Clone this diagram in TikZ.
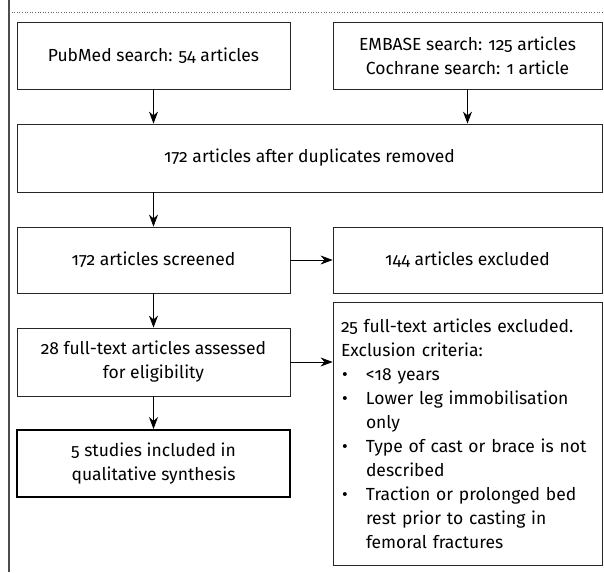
\documentclass[tikz,border=0pt]{standalone}
\usepackage{fontspec}
\setmainfont{Fira Sans}[Numbers=OldStyle]
\usetikzlibrary{arrows.meta}

\begin{document}
\begin{tikzpicture}[
  x=1pt, y=-1pt,
  font=\fontsize{17.5}{24}\selectfont,
  flowbox/.style={draw=black!85, line width=0.8pt, align=center, inner sep=0pt},
  finalbox/.style={flowbox, draw=black, line width=2pt},
  flowarrow/.style={-{Stealth[length=12pt,width=9pt]}, line width=0.8pt},
]
\useasboundingbox (0,0) rectangle (604,572);
\draw[black!70, line width=1.2pt] (9,0) -- (9,572);
\draw[black!60, line width=0.6pt, dotted] (9,12) -- (604,12);

\node[flowbox, minimum width=273pt, minimum height=66.5pt] (pubmed) at (153.5,55.75) {PubMed search: 54 articles};
\node[flowbox, minimum width=269pt, minimum height=66.5pt] (embase) at (467.5,55.75) {EMBASE search: 125 articles\\Cochrane search: 1 article};
\node[flowbox, minimum width=585pt, minimum height=68pt] (dup) at (309.5,158) {172 articles after duplicates removed};
\node[flowbox, minimum width=273pt, minimum height=66pt] (screened) at (153.5,260) {172 articles screened};
\node[flowbox, minimum width=269pt, minimum height=66pt] (excluded) at (467.5,260) {144 articles excluded};
\node[flowbox, minimum width=273pt, minimum height=68pt] (fulltext) at (153.5,362) {28 full-text articles assessed\\for eligibility};
\node[finalbox, minimum width=273pt, minimum height=67pt] (studies) at (153.5,463.5) {5 studies included in\\qualitative synthesis};
\node[flowbox, minimum width=269pt, minimum height=263pt, text width=253pt, align=left] (criteria) at (467.5,433.5) {%
  25 full-text articles excluded.\\
  Exclusion criteria:\\
  \makebox[25pt][l]{\hspace{1pt}\textbullet}<18 years\\
  \makebox[25pt][l]{\hspace{1pt}\textbullet}Lower leg immobilisation\\
  \hspace*{25pt}only\\
  \makebox[25pt][l]{\hspace{1pt}\textbullet}\mbox{Type of cast or brace is not}\\
  \hspace*{25pt}described\\
  \makebox[25pt][l]{\hspace{1pt}\textbullet}Traction or prolonged bed\\
  \hspace*{25pt}rest prior to casting in\\
  \hspace*{25pt}femoral fractures};

\draw[flowarrow] (pubmed.south) -- (pubmed.south |- dup.north);
\draw[flowarrow] (embase.south) -- (embase.south |- dup.north);
\draw[flowarrow] (screened.north |- dup.south) -- (screened.north);
\draw[flowarrow] (screened.east) -- (excluded.west);
\draw[flowarrow] (screened.south) -- (fulltext.north);
\draw[flowarrow] (fulltext.east) -- (fulltext.east -| criteria.west);
\draw[flowarrow] (fulltext.south) -- (studies.north);
\end{tikzpicture}
\end{document}
